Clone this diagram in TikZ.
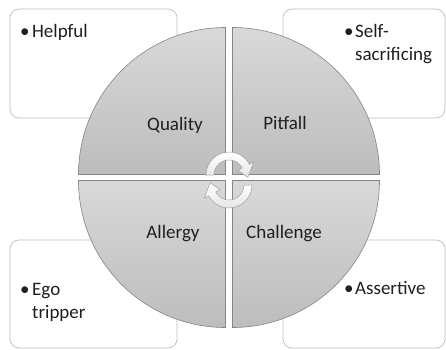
\documentclass[tikz,border=0pt]{standalone}
\usepackage{fontspec}
\setmainfont{Carlito}
\usetikzlibrary{positioning}

\begin{document}
\begin{tikzpicture}[
  x=1pt, y=1pt,
  every node/.style={font=\fontsize{19}{23}\selectfont, text=black!88, inner sep=0pt},
  cornerbox/.style={draw=black!25, fill=white, rounded corners=9pt, line width=0.7pt,
    minimum width=167pt, minimum height=109pt},
  quarter/.style={draw=black!48, line width=0.6pt, top color=black!15, bottom color=black!26},
  turn/.style={draw=black!38, line width=0.5pt, top color=white, bottom color=black!10},
]
\useasboundingbox (0,0) rectangle (446,349);

\node[cornerbox] (boxq) at (93.5,285.5) {};
\node[cornerbox, minimum width=162pt] (boxp) at (364,285.5) {};
\node[cornerbox, minimum height=108pt] (boxa) at (93.5,55) {};
\node[cornerbox, minimum width=162pt, minimum height=108pt] (boxc) at (364,55) {};

\node[anchor=base west] (helpful) at (20,312) {•\kern2.5pt Helpful};
\node[anchor=base west, align=left] (selfsac) at (344,289) {•\kern1.5pt Self-\\\hphantom{•\kern1.5pt}sacrificing};
\node[anchor=base west, align=left] (egotrip) at (20,31) {•\kern2.5pt Ego\\\hphantom{•\kern2.5pt}tripper};
\node[anchor=base west] (assert) at (344,55) {•\kern1.5pt Assertive};

\draw[quarter] (225.5,174.5) -- ++(-147,0) arc (180:90:147) -- cycle;
\draw[quarter] (232.5,174.5) -- ++(0,147) arc (90:0:147) -- cycle;
\draw[quarter] (225.5,168.5) -- ++(0,-147) arc (270:180:147) -- cycle;
\draw[quarter] (232.5,168.5) -- ++(147,0) arc (0:-90:147) -- cycle;

\node[anchor=base] (quality) at (175,219) {Quality};
\node[anchor=base] (pitfall) at (285,220) {Pitfall};
\node[anchor=base] (allergy) at (173,111) {Allergy};
\node[anchor=base] (challenge) at (284,111) {Challenge};

\draw[turn, shift={(229,174)}] (180:23) arc (180:28:23) -- (28:28) -- (-7:19)
  -- (28:10) -- (28:15) arc (28:180:15) -- cycle;
\draw[turn, shift={(229,164)}] (0:23) arc (0:-152:23) -- (-152:28) -- (173:19)
  -- (-152:10) -- (-152:15) arc (-152:0:15) -- cycle;
\end{tikzpicture}
\end{document}
